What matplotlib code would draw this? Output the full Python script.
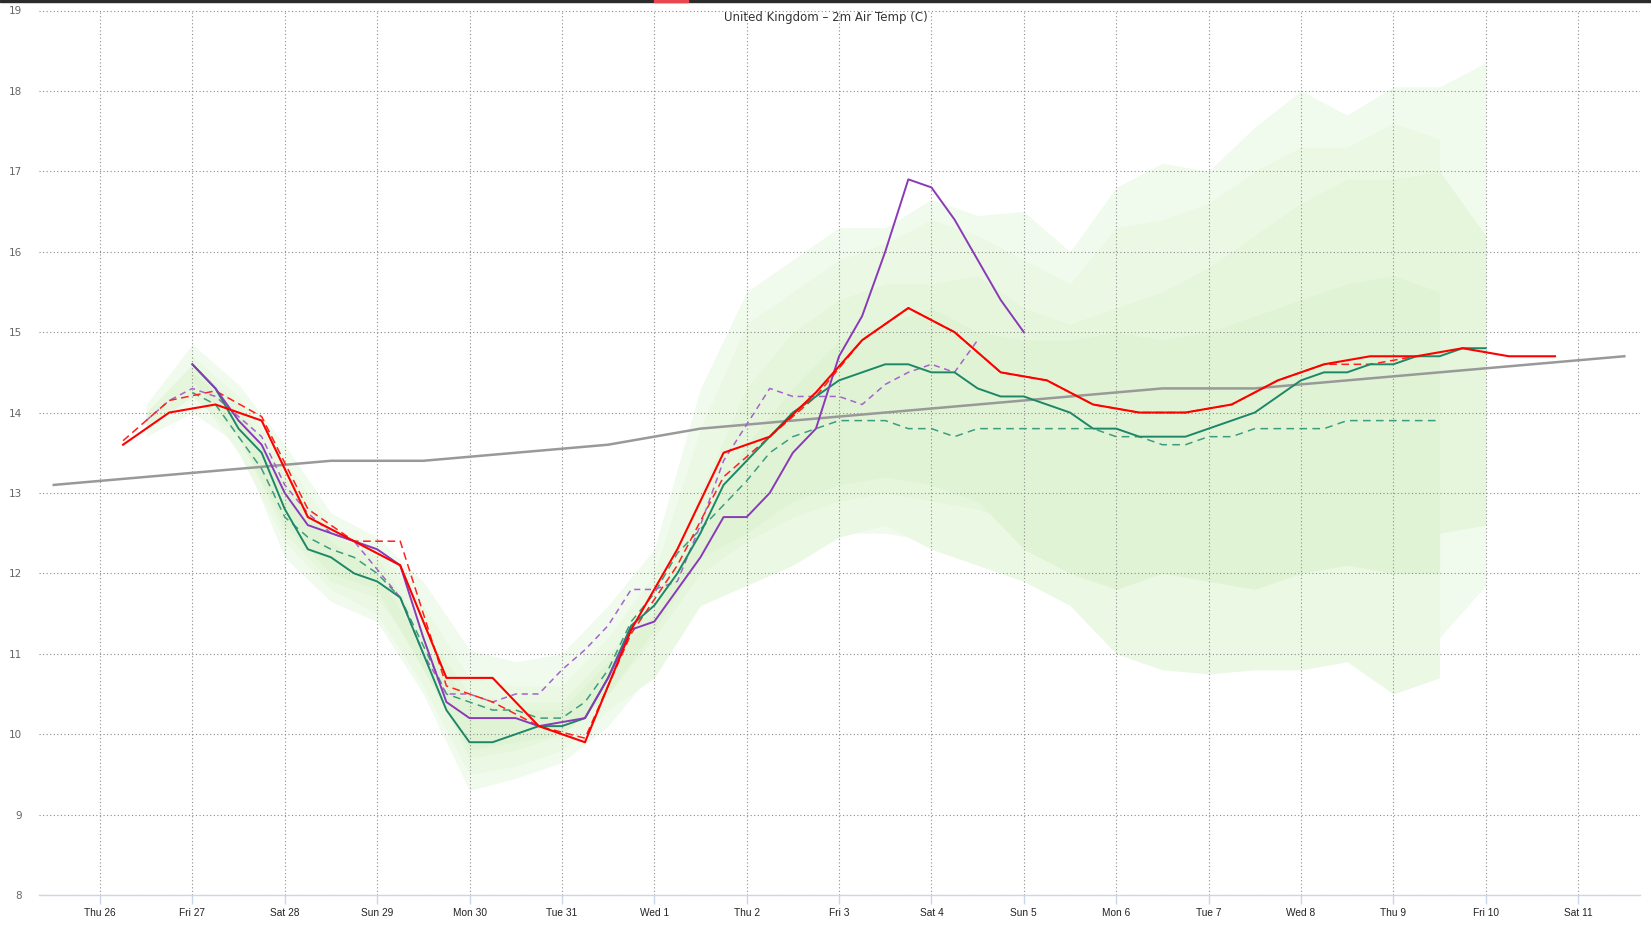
import numpy as np
import matplotlib
matplotlib.use("Agg")
import matplotlib.pyplot as plt
from matplotlib.patches import Rectangle

# ---------------------------
# Data  (time = days after Thu 26 00Z)
# ---------------------------
day_labels = ["Thu 26", "Fri 27", "Sat 28", "Sun 29", "Mon 30", "Tue 31", "Wed 1",
              "Thu 2", "Fri 3", "Sat 4", "Sun 5", "Mon 6", "Tue 7", "Wed 8",
              "Thu 9", "Fri 10", "Sat 11"]

# red solid, 12-hourly from t=0.25
red_op = [13.6, 14.0, 14.1, 13.9, 12.7, 12.4, 12.1, 10.7, 10.7, 10.1, 9.9, 11.3,
          12.3, 13.5, 13.7, 14.25, 14.9, 15.3, 15.0, 14.5, 14.4, 14.1, 14.0, 14.0,
          14.1, 14.4, 14.6, 14.7, 14.7, 14.8, 14.7, 14.7]
# red dashed, 12-hourly from t=0.25
red_prev = [13.65, 14.15, 14.27, 13.95, 12.8, 12.4, 12.4, 10.6, 10.4, 10.1, 9.95, 11.25,
            12.1, 13.2, 13.7, 14.2, 14.9, 15.3, 15.0, 14.5, 14.4, 14.1, 14.0, 14.0,
            14.1, 14.4, 14.6, 14.6, 14.7]
# teal solid, 6-hourly from t=1.0
teal_op = [14.6, 14.3, 13.8, 13.5, 12.8, 12.3, 12.2, 12.0, 11.9, 11.7, 11.0, 10.3,
           9.9, 9.9, 10.0, 10.1, 10.1, 10.2, 10.7, 11.35, 11.6, 12.0, 12.5, 13.1,
           13.4, 13.7, 14.0, 14.2, 14.4, 14.5, 14.6, 14.6, 14.5, 14.5, 14.3, 14.2,
           14.2, 14.1, 14.0, 13.8, 13.8, 13.7, 13.7, 13.7, 13.8, 13.9, 14.0, 14.2,
           14.4, 14.5, 14.5, 14.6, 14.6, 14.7, 14.7, 14.8, 14.8]
# teal dashed, 6-hourly from t=1.0
teal_prev = [14.25, 14.1, 13.7, 13.3, 12.7, 12.45, 12.3, 12.2, 12.0, 11.7, 11.1, 10.5,
             10.4, 10.3, 10.3, 10.2, 10.2, 10.4, 10.8, 11.4, 11.75, 12.25, 12.55, 12.85,
             13.15, 13.5, 13.7, 13.8, 13.9, 13.9, 13.9, 13.8, 13.8, 13.7, 13.8, 13.8,
             13.8, 13.8, 13.8, 13.8, 13.7, 13.7, 13.6, 13.6, 13.7, 13.7, 13.8, 13.8,
             13.8, 13.8, 13.9, 13.9, 13.9, 13.9, 13.9]
# purple solid, 6-hourly from t=1.0
purple_op = [14.6, 14.3, 13.9, 13.6, 13.0, 12.6, 12.5, 12.4, 12.3, 12.1, 11.2, 10.4,
             10.2, 10.2, 10.2, 10.1, 10.15, 10.2, 10.7, 11.3, 11.4, 11.8, 12.2, 12.7,
             12.7, 13.0, 13.5, 13.8, 14.7, 15.2, 16.0, 16.9, 16.8, 16.4, 15.9, 15.4,
             15.0]
# purple dashed, 6-hourly from t=0.5
purple_prev = [13.9, 14.15, 14.3, 14.2, 13.95, 13.7, 13.1, 12.75, 12.5, 12.4, 12.05, 11.7,
               11.0, 10.5, 10.5, 10.4, 10.5, 10.5, 10.8, 11.05, 11.35, 11.8, 11.8, 11.9,
               12.6, 13.4, 13.85, 14.3, 14.2, 14.2, 14.2, 14.1, 14.35, 14.5, 14.6, 14.5,
               14.9]
# climatology, daily from t=-0.5
clim = [13.1, 13.2, 13.3, 13.4, 13.4, 13.5, 13.6, 13.8, 13.9, 14.0, 14.1, 14.2,
        14.3, 14.3, 14.4, 14.5, 14.6, 14.7]

# ensemble A, 12-hourly from t=0.5
ensA_outer_hi = [14.1, 14.85, 14.35, 13.6, 12.75, 12.45, 11.9, 11.05, 10.9, 11.0, 11.6, 12.3,
                 14.3, 15.5, 15.9, 16.3, 16.3, 16.65, 16.45, 16.5, 16.0, 16.8, 17.1, 17.0,
                 17.55, 18.0, 17.7, 18.05, 18.05, 18.35]
ensA_outer_lo = [13.7, 14.0, 13.6, 12.2, 11.65, 11.4, 10.5, 9.3, 9.45, 9.65, 10.1, 10.8,
                 11.7, 11.9, 12.2, 12.5, 12.5, 12.4, 12.2, 12.0, 11.7, 11.3, 11.1, 11.0,
                 11.0, 11.1, 11.0, 11.0, 11.2, 11.85]
ensA_inner_hi = [14.0, 14.6, 14.1, 13.2, 12.5, 12.2, 11.3, 10.5, 10.4, 10.4, 11.0, 11.6,
                 13.0, 14.3, 15.0, 15.4, 15.6, 15.6, 15.7, 15.3, 15.1, 15.3, 15.5, 15.8,
                 16.2, 16.6, 16.9, 16.9, 17.0, 16.2]
ensA_inner_lo = [13.8, 14.2, 13.7, 12.5, 11.9, 11.7, 10.9, 9.7, 9.8, 10.0, 10.5, 11.2,
                 12.0, 12.4, 12.7, 12.9, 13.0, 12.9, 12.8, 12.6, 12.5, 12.4, 12.2, 12.2,
                 12.3, 12.2, 12.3, 12.4, 12.5, 12.6]
# ensemble B, 12-hourly from t=1.0
ensB_outer_hi = [14.7, 14.2, 13.4, 12.6, 12.3, 11.6, 10.7, 10.6, 10.6, 11.2, 12.0, 13.8,
                 15.1, 15.5, 15.9, 16.1, 16.4, 16.2, 15.9, 15.6, 16.3, 16.4, 16.6, 17.0,
                 17.3, 17.3, 17.6, 17.4]
ensB_outer_lo = [14.3, 13.5, 12.4, 11.8, 11.5, 10.6, 9.5, 9.6, 9.8, 10.3, 10.7, 11.6,
                 11.85, 12.1, 12.45, 12.6, 12.3, 12.1, 11.9, 11.6, 11.0, 10.8, 10.75, 10.8,
                 10.8, 10.9, 10.5, 10.7]
ensB_inner_hi = [14.5, 14.0, 13.1, 12.4, 12.0, 11.1, 10.4, 10.3, 10.3, 10.9, 11.5, 12.6,
                 13.6, 14.3, 14.9, 15.1, 15.3, 15.0, 14.9, 14.9, 15.0, 14.9, 15.0, 15.2,
                 15.4, 15.6, 15.7, 15.5]
ensB_inner_lo = [14.4, 13.7, 12.6, 12.0, 11.8, 10.8, 9.8, 9.9, 10.0, 10.5, 11.3, 12.2,
                 12.5, 12.9, 13.1, 13.2, 13.1, 12.9, 12.3, 12.0, 11.8, 12.0, 11.9, 11.8,
                 12.0, 12.1, 12.0, 12.0]


def times(start, step, vals):
    return start + step * np.arange(len(vals))


# ---------------------------
# Figure
# ---------------------------
W, H = 1651, 930
fig = plt.figure(figsize=(W / 100, H / 100), dpi=100)
ax = fig.add_axes([39 / W, 35 / H, (1640 - 39) / W, (895 - 10.5) / H])

# ensemble bands
tA = times(0.5, 0.5, ensA_outer_hi)
tB = times(1.0, 0.5, ensB_outer_hi)
ax.fill_between(tA, ensA_outer_lo, ensA_outer_hi, color="#f1fbed", lw=0, zorder=1)
ax.fill_between(tB, ensB_outer_lo, ensB_outer_hi, color="#ebf9e4", lw=0, zorder=1.1)
ax.fill_between(tA, ensA_inner_lo, ensA_inner_hi, color="#e5f6dc", lw=0, zorder=1.2)
ax.fill_between(tB, ensB_inner_lo, ensB_inner_hi, color="#e0f4d5", lw=0, zorder=1.3)

# lines
ax.plot(times(-0.5, 1.0, clim), clim, color="#999999", lw=1.8, zorder=3)
ax.plot(times(1.0, 0.25, teal_prev), teal_prev, color="#3d9c80", lw=1.1,
        dashes=(5, 3.5), zorder=4)
ax.plot(times(0.5, 0.25, purple_prev), purple_prev, color="#a563cc", lw=1.1,
        dashes=(4, 3), zorder=4)
ax.plot(times(0.25, 0.5, red_prev), red_prev, color="#ff2020", lw=1.1,
        dashes=(5, 3), zorder=4)
ax.plot(times(1.0, 0.25, teal_op), teal_op, color="#1d8767", lw=1.4, zorder=5)
ax.plot(times(1.0, 0.25, purple_op), purple_op, color="#8a3ab8", lw=1.4, zorder=6)
ax.plot(times(0.25, 0.5, red_op), red_op, color="#ff0000", lw=1.5, zorder=7)

# axes styling
ax.set_xlim(-0.66, 16.67)
ax.set_ylim(8, 19)
ax.set_xticks(np.arange(len(day_labels)))
ax.set_xticklabels(day_labels, fontfamily="Liberation Sans")
ax.set_yticks(np.arange(8, 20))
ax.set_axisbelow(False)
ax.grid(True, color="#8c8c8c", linestyle=(0, (1, 2.2)), linewidth=0.8)

for side in ["top", "left", "right"]:
    ax.spines[side].set_visible(False)
ax.spines["bottom"].set_color("#ccd6eb")
ax.spines["bottom"].set_linewidth(1)
ax.spines["bottom"].set_zorder(8)

ax.tick_params(axis="x", length=6.5, width=1, color="#ccd6eb", labelsize=7.3,
               labelcolor="#222222", pad=3)
ax.tick_params(axis="y", length=0, pad=12, labelsize=7.5, labelcolor="#666666")

fig.text(0.5, 1 - 18 / H, "United Kingdom \u2013 2m Air Temp (C)", ha="center",
         va="center", fontsize=8.5, color="#333333")

# top browser bar
fig.patches.append(Rectangle((0, 1 - 2 / H), 1, 2 / H, transform=fig.transFigure,
                             color="#2b2b2b", zorder=10))
fig.patches.append(Rectangle((654 / W, 1 - 2 / H), 34 / W, 2 / H,
                             transform=fig.transFigure, color="#e8474f", zorder=11))

fig.savefig("out.png", dpi=100)
